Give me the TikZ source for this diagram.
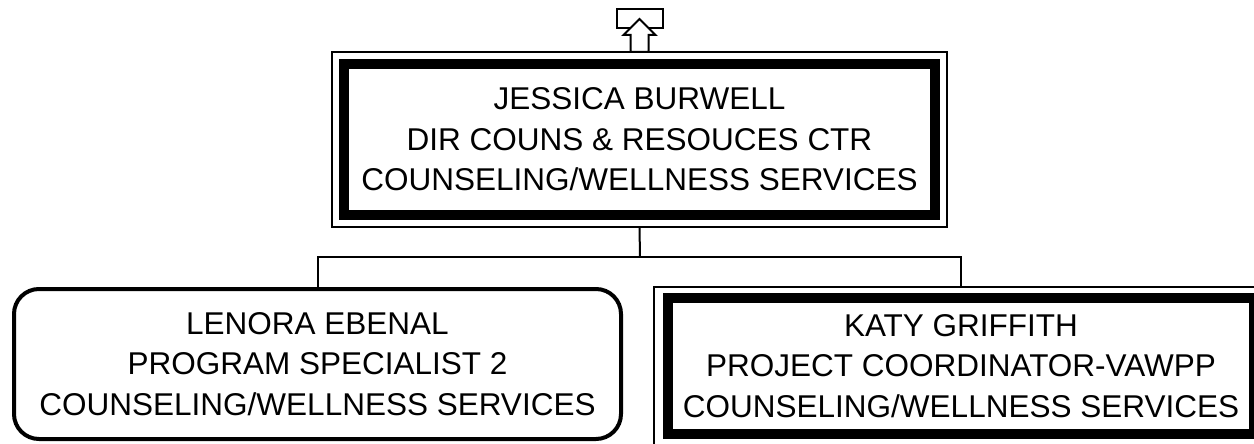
\documentclass[tikz,border=0pt]{standalone}
\usepackage{fontspec}
\setmainfont{Liberation Sans}
\usetikzlibrary{fit}

\begin{document}
\begin{tikzpicture}[x=1pt, y=-1pt,
    person/.style={align=center, font=\fontsize{31.5}{40.5}\selectfont, inner sep=0pt, outer sep=0pt},
    heavybox/.style={person, draw, line width=10pt},
    roundbox/.style={person, draw, line width=4pt, rounded corners=25pt},
    thinframe/.style={draw, line width=2pt, outer sep=0pt},
    link/.style={line width=2pt}]
    \useasboundingbox (0,0) rectangle (1254,444);
    \clip (0,0) rectangle (1254,444);
    % boxes
    \node[heavybox, minimum width=591pt, minimum height=151pt] (jessica) at (639.5,139.5)
        {JESSICA BURWELL\\DIR COUNS \& RESOUCES CTR\\COUNSELING/WELLNESS SERVICES};
    \node[thinframe, fit=(jessica), inner sep=12pt] (jessicaframe) {};
    \node[roundbox, minimum width=607pt, minimum height=150pt] (lenora) at (317.5,364)
        {LENORA EBENAL\\PROGRAM SPECIALIST 2\\COUNSELING/WELLNESS SERVICES};
    \node[heavybox, minimum width=586pt, minimum height=136pt] (katy) at (961,366)
        {KATY GRIFFITH\\PROJECT COORDINATOR-VAWPP\\COUNSELING/WELLNESS SERVICES};
    \node[thinframe, fit=(katy), inner xsep=14pt, inner ysep=11pt] (katyframe) {};
    % connectors
    \coordinate (bus) at (640,257);
    \draw[link] (jessicaframe.south) -- (bus);
    \draw[link] (lenora.north) |- (bus) -| (katyframe.north);
    % up icon
    \begin{scope}[shift={(jessicaframe.north)}, line width=2pt]
        \filldraw[fill=white] (-23,-43) rectangle (23,-24);
        \filldraw[fill=white] (0,-33) -- (16,-17) -- (9,-17) -- (9,0) -- (-9,0) -- (-9,-17) -- (-16,-17) -- cycle;
    \end{scope}
\end{tikzpicture}
\end{document}
